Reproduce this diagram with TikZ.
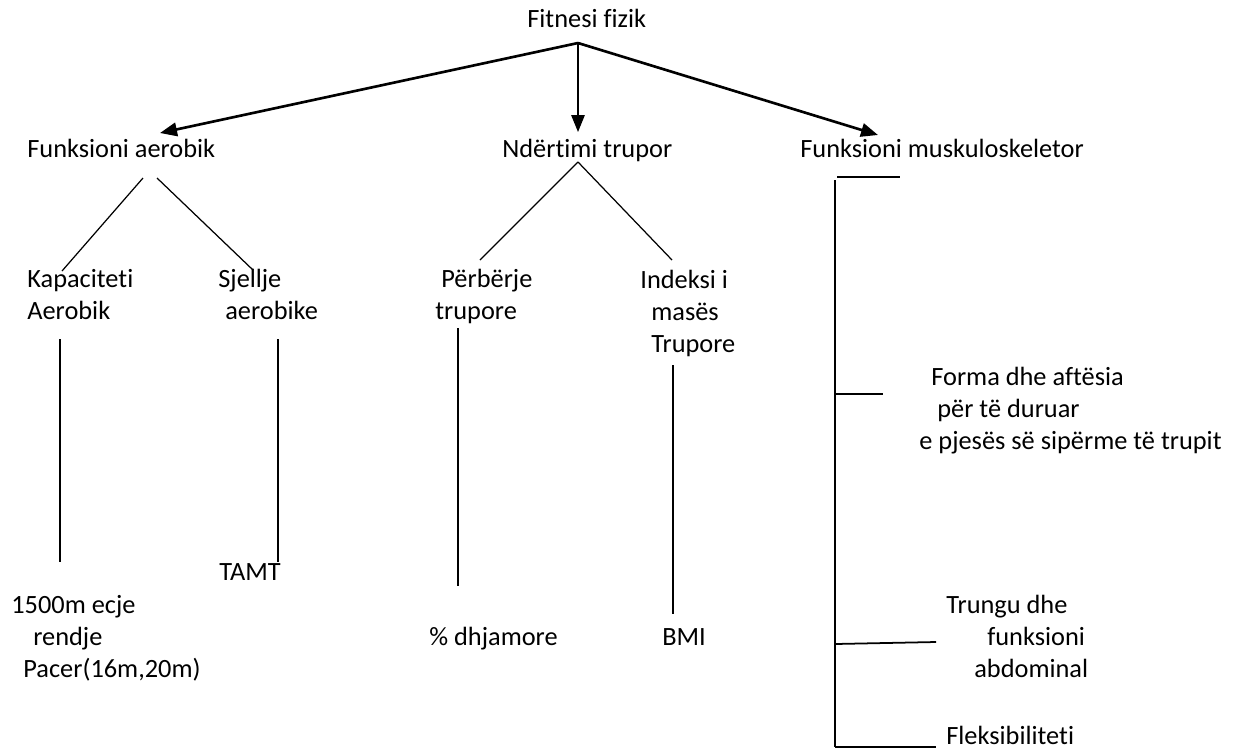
\documentclass[tikz,border=0pt]{standalone}
\usepackage{fontspec}
\setmainfont[Ligatures={NoCommon}]{Carlito}
\usetikzlibrary{arrows.meta}

\begin{document}
\begin{tikzpicture}[x=0.02cm,y=-0.02cm,
        lbl/.style={anchor=base west, inner sep=0pt, align=left, font=\fontsize{15}{18.2}\selectfont},
        arr/.style={-{Triangle[length=0.34cm,width=0.27cm]}, line width=1.5pt},
        ln/.style={line width=0.7pt}]
        \useasboundingbox (0,0) rectangle (1233,748);
        % labels (base = last line)
        \node[lbl] (fit) at (527,27) {Fitnesi fizik};
        \node[lbl] (aer) at (27,157) {Funksioni aerobik};
        \node[lbl] (ndt) at (502,157) {Ndërtimi trupor};
        \node[lbl] (msk) at (800,157) {Funksioni muskuloskeletor};
        \node[lbl] (kap) at (27,319) {Kapaciteti\\Aerobik};
        \node[lbl] (sje) at (218,319) {Sjellje\\\hspace*{0.14cm}aerobike};
        \node[lbl] (per) at (435,319) {\hspace*{0.12cm}Përbërje\\trupore};
        \node[lbl] (ind) at (640,352) {Indeksi i\\\hspace*{0.22cm}masës\\\hspace*{0.22cm}Trupore};
        \node[lbl] (tamt) at (219,580) {TAMT};
        \node[lbl] (ecj) at (11,677) {1500m ecje\\\hspace*{0.44cm}rendje\\\hspace*{0.24cm}Pacer(16m,20m)};
        \node[lbl] (dhj) at (429,645) {\% dhjamore};
        \node[lbl] (bmi) at (662,645) {BMI};
        \node[lbl] (frm) at (919,449) {\hspace*{0.24cm}Forma dhe aftësia\\\hspace*{0.36cm}për të duruar\\e pjesës së sipërme të trupit};
        \node[lbl] (trg) at (946,677) {Trungu dhe\\\hspace*{0.82cm}funksioni\\\hspace*{0.56cm}abdominal};
        \node[lbl] (flx) at (946,744) {Fleksibiliteti};
        % connector ends
        \coordinate (top) at (578,43);
        \coordinate (aerin) at (160,133);
        \coordinate (ndtin) at (578,132);
        \coordinate (mskin) at (878,135);
        \coordinate (aerl) at (143,178);
        \coordinate (aerr) at (157,178);
        \coordinate (kapup) at (62,271);
        \coordinate (sjeup) at (253,270);
        \coordinate (ndtdn) at (578,162);
        \coordinate (perup) at (480,260);
        \coordinate (indup) at (672,260);
        \coordinate (kapa) at (60,339);
        \coordinate (kapb) at (60,562);
        \coordinate (sjea) at (278,339);
        \coordinate (sjeb) at (278,562);
        \coordinate (pera) at (458,328);
        \coordinate (perb) at (458,586);
        \coordinate (inda) at (673,365);
        \coordinate (indb) at (673,614);
        \coordinate (mskl) at (837,177);
        \coordinate (mskr) at (900,177);
        \coordinate (bara) at (835,180);
        \coordinate (barb) at (835,747);
        \coordinate (frma) at (835,394);
        \coordinate (frmb) at (883,394);
        \coordinate (trga) at (835,644);
        \coordinate (trgb) at (936,642);
        \coordinate (flxb) at (936,747);
        \draw [arr] (top) to (aerin);
        \draw [arr, line width=0.8pt] (top) to (ndtin);
        \draw [arr] (top) to (mskin);
        \draw [ln] (aerl) to (kapup);
        \draw [ln] (aerr) to (sjeup);
        \draw [ln] (ndtdn) to (perup);
        \draw [ln] (ndtdn) to (indup);
        \draw [ln] (kapa) to (kapb);
        \draw [ln] (sjea) to (sjeb);
        \draw [ln] (pera) to (perb);
        \draw [ln] (inda) to (indb);
        \draw [ln, line width=1pt] (mskl) to (mskr);
        \draw [ln, line width=1pt] (bara) to (barb);
        \draw [ln, line width=1pt] (frma) to (frmb);
        \draw [ln, line width=1pt] (trga) to (trgb);
        \draw [ln, line width=1pt] (barb) to (flxb);
\end{tikzpicture}
\end{document}
